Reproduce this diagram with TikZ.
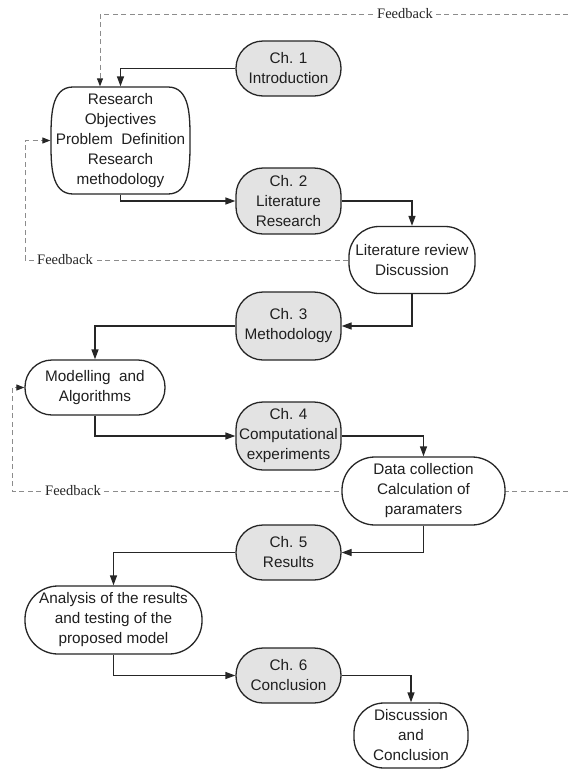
\documentclass[tikz,border=0pt]{standalone}
\usepackage{fontspec}
\setmainfont{Liberation Sans}
\newfontfamily\fbfont{Liberation Serif}
\usetikzlibrary{arrows.meta,backgrounds}
\begin{document}
\begin{tikzpicture}[x=1pt,y=-1pt,
  box/.style={draw=black!85, line width=1.3pt, align=center, inner sep=0pt,
    font=\fontsize{15.3}{20}\selectfont, text=black!88},
  chbox/.style={box, fill=black!11, minimum width=105pt, rounded corners=27pt},
  wbox/.style={box, fill=white},
  conn/.style={line width=1.3pt, draw=black!85, -{Triangle[length=10pt,width=7pt]}},
  fb/.style={draw=black!45, line width=1pt, dash pattern=on 5pt off 3.5pt},
  fbarrow/.style={fb, -{Triangle[length=8pt,width=6pt,color=black!85]}},
  fblabel/.style={fill=white, inner sep=1pt, font=\fbfont\fontsize{14.5}{14.5}\selectfont, text=black!85}
]
\useasboundingbox (0,0) rectangle (568,769);

% nodes
\node[chbox, minimum height=55pt] (ch1) at (288.5,68.5) {Ch. 1\\Introduction};
\draw[line width=1.3pt, draw=black!85, fill=white]
  (71,87) -- (168,87) to[out=0,in=90] (190,140.5) to[out=-90,in=0] (168,194)
  -- (73,194) to[out=180,in=-90] (51,140.5) to[out=90,in=180] (73,87) -- cycle;
\node[box, draw=none, minimum width=139pt, minimum height=107pt] (rob) at (120.5,140.5)
  {Research\\Objectives\\Problem~~Definition\\Research\\methodology};
\node[chbox, minimum height=66pt] (ch2) at (288.5,201) {Ch. 2\\Literature\\Research};
\node[wbox, minimum width=126pt, minimum height=67pt, rounded corners=30pt] (lit) at (412,260) {Literature review\\Discussion};
\node[chbox, minimum height=68pt] (ch3) at (288.5,326) {Ch. 3\\Methodology};
\node[wbox, minimum width=140pt, minimum height=55pt, rounded corners=27pt] (mod) at (95,387.5) {Modelling~~and\\Algorithms};
\node[chbox, minimum height=68pt] (ch4) at (288.5,436) {Ch. 4\\Computational\\experiments};
\node[wbox, minimum width=163pt, minimum height=68pt, rounded corners=33pt] (data) at (423.5,491) {Data collection\\Calculation of\\paramaters};
\node[chbox, minimum height=55pt] (ch5) at (288.5,552.5) {Ch. 5\\Results};
\node[wbox, minimum width=177pt, minimum height=68pt, rounded corners=33pt] (ana) at (113.5,620) {Analysis of the results\\and testing of the\\proposed model};
\node[chbox, minimum height=55pt] (ch6) at (288.5,675.5) {Ch. 6\\Conclusion};
\node[wbox, minimum width=114pt, minimum height=65pt, rounded corners=30pt] (disc) at (411,735.5) {Discussion\\and\\Conclusion};

% feedback coordinates
\coordinate (fbtopR) at (568,14);
\coordinate (fbtopL) at (100,14);
\coordinate (fb2c) at (25,140.5);
\coordinate (fb3R) at (568,491);
\coordinate (fb3c) at (12,387.5);

\begin{scope}[on background layer]
  \fill[white] (0,0) rectangle (568,769);
  \draw[fbarrow] (fbtopR) -- (fbtopL) -- (fbtopL |- rob.north);
  \draw[fbarrow] (lit.west) -| (fb2c) -- (rob.west);
  \draw[fbarrow] (fb3R) -| (fb3c) -- (mod.west);
\end{scope}

\node[fblabel] (fbl1) at (405,14) {Feedback};
\node[fblabel] (fbl2) at (65,260) {Feedback};
\node[fblabel] (fbl3) at (73,491) {Feedback};

% connectors
\draw[conn] (ch1.west) -| (rob.north);
\draw[conn] (rob.south) |- (ch2.west);
\draw[conn] (ch2.east) -| (lit.north);
\draw[conn] (lit.south) |- (ch3.east);
\draw[conn] (ch3.west) -| (mod.north);
\draw[conn] (mod.south) |- (ch4.west);
\draw[conn] (ch4.east) -| (data.north);
\draw[conn] (data.south) |- (ch5.east);
\draw[conn] (ch5.west) -| (ana.north);
\draw[conn] (ana.south) |- (ch6.west);
\draw[conn] (ch6.east) -| (disc.north);
\end{tikzpicture}
\end{document}
